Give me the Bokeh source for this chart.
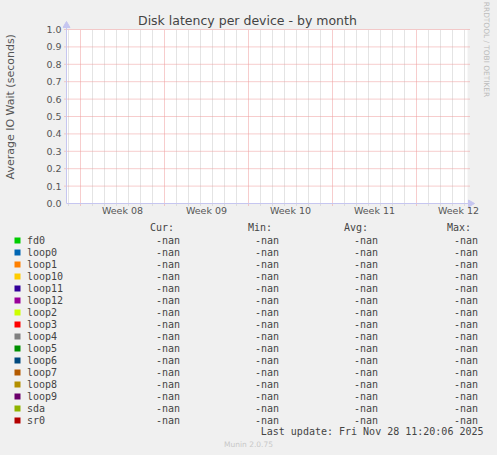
import math
from bokeh.plotting import figure
from bokeh.layouts import column, row
from bokeh.models import Range1d, FixedTicker, PrintfTickFormatter, ColumnDataSource
from bokeh.core.properties import value
from bokeh.embed import file_html
from bokeh.resources import INLINE

# ---------------- data ----------------
TITLE = "Disk latency per device - by month"
Y_LABEL = "Average IO Wait (seconds)"
WATERMARK = "RRDTOOL / TOBI OETIKER"
FOOTER = "Munin 2.0.75"
LAST_UPDATE = "Last update: Fri Nov 28 11:20:06 2025"

devices = ["fd0", "loop0", "loop1", "loop10", "loop11", "loop12", "loop2",
           "loop3", "loop4", "loop5", "loop6", "loop7", "loop8", "loop9",
           "sda", "sr0"]
colors = ["#00CC00", "#0066B3", "#FF8000", "#FFCC00", "#330099", "#990099",
          "#CCFF00", "#FF0000", "#808080", "#008F00", "#00487D", "#B35A00",
          "#B38F00", "#6B006B", "#8FB300", "#B30000"]
columns = ["Cur:", "Min:", "Avg:", "Max:"]
cur_vals = ["-nan", "-nan", "-nan", "-nan", "-nan", "-nan", "-nan", "-nan",
            "-nan", "-nan", "-nan", "-nan", "-nan", "-nan", "-nan", "-nan"]
min_vals = ["-nan", "-nan", "-nan", "-nan", "-nan", "-nan", "-nan", "-nan",
            "-nan", "-nan", "-nan", "-nan", "-nan", "-nan", "-nan", "-nan"]
avg_vals = ["-nan", "-nan", "-nan", "-nan", "-nan", "-nan", "-nan", "-nan",
            "-nan", "-nan", "-nan", "-nan", "-nan", "-nan", "-nan", "-nan"]
max_vals = ["-nan", "-nan", "-nan", "-nan", "-nan", "-nan", "-nan", "-nan",
            "-nan", "-nan", "-nan", "-nan", "-nan", "-nan", "-nan", "-nan"]

week_labels = ["Week 08", "Week 09", "Week 10", "Week 11", "Week 12"]
week_starts = [0, 7, 14, 21, 28]          # day offsets of week boundaries
y_ticks = [0.0, 0.1, 0.2, 0.3, 0.4, 0.5, 0.6, 0.7, 0.8, 0.9, 1.0]

# ---------------- layout / style ----------------
TOTAL_W, TOTAL_H = 497, 455
LEFT_W = 30                   # strip holding the y-axis title
CHART_R, CHART_H = 480, 222   # right edge / height of the chart block
PX_DAY = 12.0                 # pixels per day
PX_UNIT = 174.0               # pixels per 1.0 on the y axis
X0_PX, Y0_PX = 80, 203        # pixel of day 0 / value 0
FRAME_L, FRAME_B = 62, 207    # frame (drawing area) edges in pixels


def px2x(px):
    return (px - X0_PX) / PX_DAY


def py2y(py):
    return (Y0_PX - py) / PX_UNIT


XL, XR = px2x(66), px2x(467)          # plot-area edges in data units
YB, YT = 0.0, 1.0

BG = "#F0F0F0"
RED = "#EE9B9B"
GRAY = "#C8C8C8"
AXIS = "#C6C6F0"
TXT = "#444444"
MONO = "DejaVu Sans Mono"
SANS = "DejaVu Sans"

# ---------------- chart ----------------
p = figure(width=CHART_R - LEFT_W, height=CHART_H, output_backend="svg", toolbar_location=None,
           x_range=Range1d(px2x(FRAME_L), px2x(CHART_R)),
           y_range=Range1d(py2y(FRAME_B), py2y(0)),
           min_border_left=FRAME_L - LEFT_W, min_border_right=0,
           min_border_top=0, min_border_bottom=CHART_H - FRAME_B)
p.background_fill_color = BG
p.border_fill_color = BG
p.outline_line_color = None
p.grid.visible = False

# white plot area
p.quad(left=[XL], right=[XR], bottom=[YB], top=[YT], fill_color="white", line_color=None)

# grid lines (dotted): day lines grey, week lines and value lines red
minor_days = [d for d in range(-1, 33) if d % 7 != 0]
tick_ext = 2 / PX_UNIT
p.segment(x0=minor_days, y0=YB - tick_ext, x1=minor_days, y1=YT,
          line_color=GRAY, line_dash="1 1", line_width=1)
p.segment(x0=week_starts, y0=YB - tick_ext, x1=week_starts, y1=YT,
          line_color=RED, line_dash="1 1", line_width=1)
p.segment(x0=XL - 2 / PX_DAY, y0=y_ticks[1:], x1=XR + 2 / PX_DAY, y1=y_ticks[1:],
          line_color=RED, line_dash="1 1", line_width=1)

# axis lines with arrow heads
p.segment(x0=[XL, XL], y0=[YB, YB], x1=[XL, XR + 3 / PX_DAY], y1=[YT + 4 / PX_UNIT, YB],
          line_color=AXIS, line_width=1)
p.scatter(x=[XL], y=[YT + 4 / PX_UNIT], marker="triangle", size=7,
          fill_color=AXIS, line_color=AXIS)
p.scatter(x=[XR + 3 / PX_DAY], y=[YB], marker="triangle", size=7, angle=-math.pi / 2,
          fill_color=AXIS, line_color=AXIS)

# axes (tick labels only; lines drawn above)
label_pos = [s + 3.5 for s in week_starts]
p.xaxis.ticker = FixedTicker(ticks=label_pos)
p.xaxis.major_label_overrides = {lp: lab for lp, lab in zip(label_pos, week_labels)}
p.xaxis.major_tick_out = 0
p.xaxis.major_tick_in = 0
p.xaxis.major_tick_line_color = None
p.xaxis.minor_tick_line_color = None
p.xaxis.axis_line_color = None
p.xaxis.major_label_standoff = -3
p.xaxis.major_label_text_font = SANS
p.xaxis.major_label_text_font_size = "9.5px"
p.xaxis.major_label_text_color = "#555555"

p.yaxis.ticker = FixedTicker(ticks=y_ticks)
p.yaxis.formatter = PrintfTickFormatter(format="%.1f")
p.yaxis.major_tick_out = 0
p.yaxis.major_tick_in = 0
p.yaxis.major_tick_line_color = None
p.yaxis.minor_tick_line_color = None
p.yaxis.axis_line_color = None
p.yaxis.major_label_standoff = 1
p.yaxis.major_label_text_font = SANS
p.yaxis.major_label_text_font_size = "9.5px"
p.yaxis.major_label_text_color = "#555555"

# title
p.text(x=[px2x(137.5)], y=[py2y(20.3)], text=[TITLE], text_font=value(SANS),
       text_font_size=value("12.5px"), text_color=TXT,
       text_align="left", text_baseline="middle")


def blank(w, h, xr, yr):
    f = figure(width=w, height=h, output_backend="svg", toolbar_location=None,
               x_range=xr, y_range=yr, x_axis_location=None, y_axis_location=None,
               min_border_left=0, min_border_right=0, min_border_top=0, min_border_bottom=0)
    f.background_fill_color = BG
    f.border_fill_color = BG
    f.outline_line_color = None
    f.grid.visible = False
    return f


# ---------------- y-axis title strip (left of chart) ----------------
lstrip = blank(LEFT_W, CHART_H, Range1d(0, LEFT_W), Range1d(CHART_H, 0))
lstrip.text(x=[10], y=[114], text=[Y_LABEL], angle=math.pi / 2,
            text_font=value(SANS), text_font_size=value("11px"), text_color="#555555",
            text_align="center", text_baseline="middle")

# ---------------- watermark strip (right of chart) ----------------
strip = blank(TOTAL_W - CHART_R, CHART_H, Range1d(CHART_R, TOTAL_W), Range1d(CHART_H, 0))
strip.text(x=[486], y=[52.5], text=[WATERMARK], angle=-math.pi / 2,
           text_font=value(SANS), text_font_size=value("7.4px"), text_color="#BBBBBB",
           text_align="center", text_baseline="middle")

# ---------------- legend table (below chart) ----------------
leg = blank(TOTAL_W, TOTAL_H - CHART_H, Range1d(0, TOTAL_W), Range1d(TOTAL_H, CHART_H))
ROW0, PITCH = 240, 12
row_y = [ROW0 + PITCH * i for i in range(len(devices))]
src = ColumnDataSource(dict(name=devices, color=colors, y=row_y,
                            cur=cur_vals, mn=min_vals, avg=avg_vals, mx=max_vals))
leg.rect(x=17, y="y", width=6, height=6, width_units="screen", height_units="screen",
         fill_color="color", line_color=None, source=src)
mono = dict(text_font=value(MONO), text_font_size=value("10px"), text_color=TXT,
            text_baseline="middle")
leg.text(x=26.5, y="y", text="name", source=src, **mono)
for vx, col in zip([155.5, 254.5, 353.5, 453.5], ["cur", "mn", "avg", "mx"]):
    leg.text(x=vx, y="y", text=col, source=src, **mono)
leg.text(x=[149.5, 247.5, 343.5, 446.5], y=[227] * 4, text=columns, **mono)
leg.text(x=[483], y=[431], text=[LAST_UPDATE], text_align="right", **mono)
leg.text(x=[248], y=[444], text=[FOOTER], text_font=value(SANS),
         text_font_size=value("7.5px"), text_color="#C8C8C8",
         text_align="center", text_baseline="middle")

layout = column(row(lstrip, p, strip, styles={"background-color": BG}), leg,
                styles={"background-color": BG})
open("out.html", "w").write(file_html(layout, INLINE))
